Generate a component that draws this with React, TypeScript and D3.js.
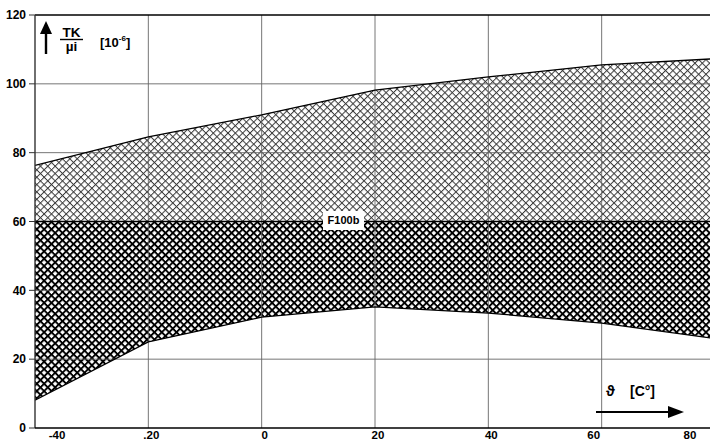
import React from "react";
import * as d3 from "d3";

// Temperature (°C) sample points
const temps = [-40, -20, 0, 20, 40, 60, 80];
// Upper bound of the TK/µi band
const upperTK = [76.3, 84.6, 91.0, 98.2, 102.0, 105.5, 107.3];
// Lower bound of the TK/µi band
const lowerTK = [8.1, 25.0, 32.2, 35.2, 33.4, 30.5, 26.0];
// Nominal split value between the two bands
const splitTK = 60;

const xTicks = [-40, -20, 0, 20, 40, 60, 80];
const xTickLabels = ["-40", ".20", "0", "20", "40", "60", "80"];
const yTicks = [0, 20, 40, 60, 80, 100, 120];

const W = 710;
const H = 441;
const FONT = "'Liberation Sans', Arial, sans-serif";

export default function App() {
  const x = d3.scaleLinear().domain([-40, 80]).range([35, 715]);
  const y = d3.scaleLinear().domain([0, 120]).range([428, 15]);

  const rows = temps.map((t, i) => ({ t, hi: upperTK[i], lo: lowerTK[i] }));

  const upperArea = d3
    .area<any>()
    .x((d) => x(d.t))
    .y0(() => y(splitTK))
    .y1((d) => y(d.hi))
    .curve(d3.curveLinear)(rows) as string;

  const lowerArea = d3
    .area<any>()
    .x((d) => x(d.t))
    .y0((d) => y(d.lo))
    .y1(() => y(splitTK))
    .curve(d3.curveLinear)(rows) as string;

  const upperLine = d3
    .line<any>()
    .x((d) => x(d.t))
    .y((d) => y(d.hi))(rows) as string;

  const lowerLine = d3
    .line<any>()
    .x((d) => x(d.t))
    .y((d) => y(d.lo))(rows) as string;

  const x0 = x(-40);
  const x1 = W;
  const yTop = y(120);
  const yBot = y(0);

  const labelDx = (t: number) => (t === -40 ? 22 : t === 80 ? -25 : t === 60 ? -8 : 3);

  return (
    <svg
      width={W}
      height={H}
      style={{ position: "absolute", left: 0, top: 0, background: "#fff" }}
    >
      <defs>
        <clipPath id="plotClip">
          <rect x={x0} y={yTop} width={x1 - x0} height={yBot - yTop} />
        </clipPath>
        <pattern
          id="hatchLight"
          patternUnits="userSpaceOnUse"
          width={5.2}
          height={5.2}
          patternTransform="rotate(45)"
        >
          <rect x={0} y={0} width={5.2} height={1.0} fill="#3a3a3a" />
          <rect x={0} y={0} width={1.0} height={5.2} fill="#3a3a3a" />
        </pattern>
        <pattern
          id="hatchDark"
          patternUnits="userSpaceOnUse"
          width={5.2}
          height={5.2}
          patternTransform="rotate(45)"
        >
          <rect x={0} y={0} width={5.2} height={1.9} fill="#000" />
          <rect x={0} y={0} width={1.9} height={5.2} fill="#000" />
        </pattern>
      </defs>

      <g clipPath="url(#plotClip)">
        <path d={upperArea} fill="url(#hatchLight)" />
        <path d={lowerArea} fill="url(#hatchDark)" />

        {/* grid */}
        {xTicks
          .filter((t) => t > -40 && t < 80)
          .map((t) => (
            <line
              key={"gx" + t}
              x1={x(t)}
              x2={x(t)}
              y1={yTop}
              y2={yBot}
              stroke="#666"
              strokeWidth={0.9}
            />
          ))}
        {yTicks
          .filter((v) => v > 0 && v < 120 && v !== splitTK)
          .map((v) => (
            <line
              key={"gy" + v}
              x1={x0}
              x2={x1}
              y1={y(v)}
              y2={y(v)}
              stroke="#666"
              strokeWidth={0.9}
            />
          ))}

        {/* band outlines */}
        <path d={upperLine} fill="none" stroke="#000" strokeWidth={1.3} />
        <path d={lowerLine} fill="none" stroke="#000" strokeWidth={1.3} />
        <line x1={x0} x2={x1} y1={y(splitTK)} y2={y(splitTK)} stroke="#000" strokeWidth={1.4} />
      </g>

      {/* frame */}
      <line x1={x0} x2={x1} y1={yTop} y2={yTop} stroke="#000" strokeWidth={1.4} />
      <line x1={x0} x2={x0} y1={yTop} y2={yBot} stroke="#333" strokeWidth={1.4} />
      <line x1={x0} x2={x1} y1={yBot} y2={yBot} stroke="#000" strokeWidth={1.6} />

      {/* y ticks */}
      {yTicks.map((v) => (
        <g key={"yt" + v}>
          <line x1={x0 - 6} x2={x0} y1={y(v)} y2={y(v)} stroke="#333" strokeWidth={1} />
          <text
            x={26}
            y={y(v)}
            dy="0.35em"
            textAnchor="end"
            fontFamily={FONT}
            fontWeight="bold"
            fontSize={12}
            fill="#000"
          >
            {v}
          </text>
        </g>
      ))}

      {/* x tick labels */}
      {xTicks.map((t, i) => (
        <text
          key={"xt" + t}
          x={x(t) + labelDx(t)}
          y={439}
          textAnchor="middle"
          fontFamily={FONT}
          fontWeight="bold"
          fontSize={11.5}
          fill="#000"
        >
          {xTickLabels[i]}
        </text>
      ))}

      {/* band label */}
      <rect x={323} y={211} width={41} height={19} fill="#fff" />
      <text
        x={343.5}
        y={220.5}
        dy="0.35em"
        textAnchor="middle"
        fontFamily={FONT}
        fontWeight="bold"
        fontSize={11}
        fill="#000"
      >
        F100b
      </text>

      {/* y quantity label */}
      <line x1={46} x2={46} y1={54} y2={30} stroke="#000" strokeWidth={2.4} />
      <path d="M40,34 L46,21 L52,34 Z" fill="#000" />
      <text x={71.5} y={37} textAnchor="middle" fontFamily={FONT} fontWeight="bold" fontSize={13.5}>
        TK
      </text>
      <line x1={60} x2={83} y1={39.5} y2={39.5} stroke="#000" strokeWidth={1.4} />
      <text x={71.5} y={51} textAnchor="middle" fontFamily={FONT} fontWeight="bold" fontSize={13.5}>
        µi
      </text>
      <text x={100} y={47} fontFamily={FONT} fontWeight="bold" fontSize={13}>
        [10
        <tspan dy={-6} fontSize={8}>-6</tspan>
        <tspan dy={6}>]</tspan>
      </text>

      {/* x quantity label */}
      <text x={606} y={396} fontFamily={FONT} fontWeight="bold" fontSize={15}>
        ϑ
      </text>
      <text x={630} y={396} fontFamily={FONT} fontWeight="bold" fontSize={14}>
        [C°]
      </text>
      <line x1={596} x2={672} y1={412} y2={412} stroke="#000" strokeWidth={2} />
      <path d="M668,406 L684,412 L668,418 Z" fill="#000" />
    </svg>
  );
}
